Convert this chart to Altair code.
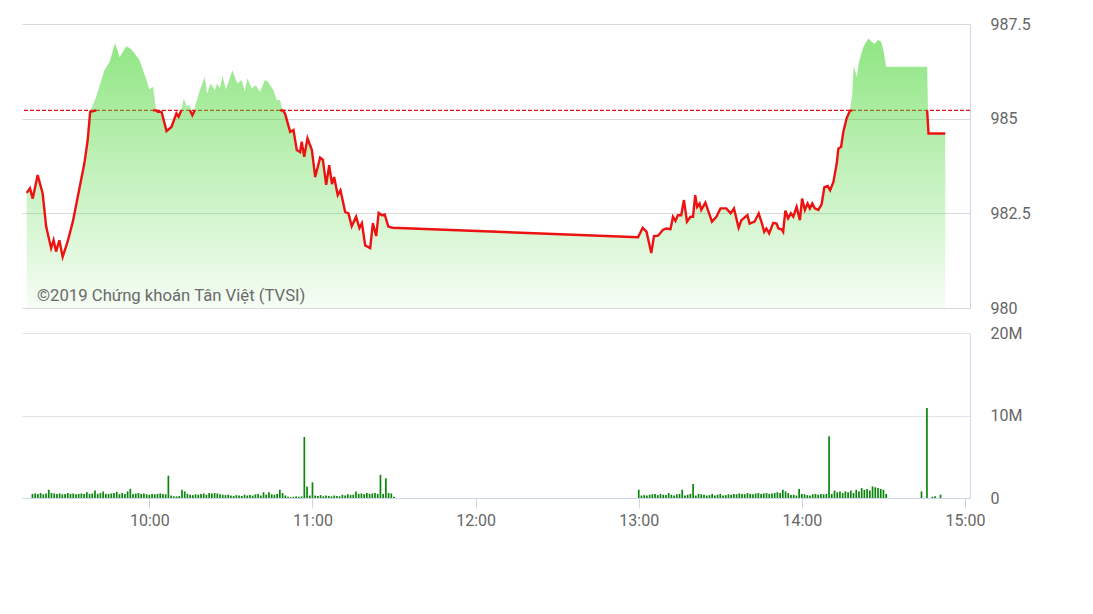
import altair as alt
import pandas as pd

REF = 985.22  # reference (previous close)
WATERMARK = "©2019 Chứng khoán Tân Việt (TVSI)"
X_TICKS = [600, 660, 720, 780, 840, 900]
X_TICK_LABELS = ["10:00", "11:00", "12:00", "13:00", "14:00", "15:00"]
Y_TICKS = [980, 982.5, 985, 987.5]
VOL_TICKS = [0, 10, 20]

# minutes since midnight
price_min = [556.7, 557.9, 558.9, 560.7, 562.5, 563.8, 565.6, 566.5, 567.4, 568.6,
             569.8, 571.6, 573.5, 575.3, 577.7, 578.9, 579.8, 582.0, 585.0, 586.9,
             588.9, 590.5, 593.0, 594.8, 596.0, 597.8, 600.3, 601.3, 602.7, 603.8,
             604.4, 605.8, 607.6, 609.4, 611.2, 612.0, 613.0, 613.9, 614.9, 616.1,
             617.0, 617.9, 619.7, 621.5, 622.4, 623.6, 625.2, 626.0, 627.0, 628.0,
             629.2, 631.6, 633.3, 634.9, 636.1, 637.0, 638.6, 640.1, 641.6, 643.4,
             644.6, 646.5, 647.7, 648.9, 649.9, 650.7, 652.6, 653.8, 655.0, 656.2,
             656.8, 657.7, 658.9, 660.5, 661.7, 663.5, 664.5, 665.7, 666.8, 667.8,
             668.6, 669.9, 670.9, 672.6, 673.8, 675.0, 676.6, 677.8, 678.7, 679.9,
             681.7, 682.7, 683.9, 684.8, 686.0, 687.0, 688.3, 689.8,
             779.2, 780.9, 782.3, 784.0, 785.0, 786.5, 788.2, 789.4, 791.0, 791.9,
             792.8, 793.7, 794.9, 795.9, 797.0, 798.3, 799.2, 800.0, 800.7, 801.6,
             802.2, 803.7, 804.6, 806.1, 807.7, 809.2, 811.3, 812.9, 814.1, 815.8,
             816.8, 819.0, 819.8, 821.6, 823.1, 824.3, 825.1, 825.9, 826.9, 828.4,
             829.6, 830.3, 831.4, 832.0, 832.8, 833.8, 834.8, 835.7, 836.9, 838.1,
             838.9, 839.9, 840.9, 841.7, 842.6, 843.5, 844.8, 846.0, 847.0, 848.2,
             849.1, 850.3, 851.5, 852.1, 853.1, 853.9, 855.1, 856.3, 857.1, 857.7,
             858.8, 859.6, 861.2, 863.0, 864.2, 865.3, 866.4, 867.6, 868.5, 869.5,
             884.4, 884.9, 891.0]
price_val = [983.04, 983.16, 982.89, 983.51, 983.03, 982.15, 981.58, 981.79, 981.49, 981.79,
             981.35, 981.75, 982.28, 982.94, 983.82, 984.43, 985.18, 985.58, 986.28, 986.50,
             987.00, 986.62, 986.91, 986.83, 986.72, 986.54, 986.02, 985.78, 985.84, 985.22,
             985.18, 985.18, 984.67, 984.78, 985.14, 985.05, 985.25, 985.53, 985.33, 985.36,
             985.09, 985.31, 985.75, 986.10, 985.66, 985.93, 985.75, 985.93, 985.80, 986.12,
             985.77, 986.28, 985.93, 986.02, 985.71, 986.06, 985.80, 985.88, 985.71, 986.02,
             985.97, 985.75, 985.49, 985.49, 985.22, 985.14, 984.65, 984.70, 984.17, 984.12,
             984.39, 983.99, 984.48, 984.17, 983.46, 983.97, 983.91, 983.25, 983.77, 983.27,
             983.46, 982.98, 983.11, 982.54, 982.50, 982.16, 982.41, 982.11, 982.24, 981.65,
             981.58, 982.24, 981.90, 982.51, 982.45, 982.47, 982.15, 982.12,
             981.87, 982.12, 982.01, 981.45, 981.90, 981.91, 982.06, 982.10, 982.08, 982.41,
             982.30, 982.45, 982.45, 982.85, 982.28, 982.41, 982.41, 982.98, 982.67, 982.76,
             982.59, 982.78, 982.59, 982.28, 982.41, 982.63, 982.63, 982.50, 982.63, 982.12,
             982.32, 982.45, 982.23, 982.28, 982.50, 982.23, 982.01, 982.10, 981.97, 982.25,
             982.23, 982.10, 982.08, 982.01, 982.57, 982.37, 982.50, 982.41, 982.67, 982.32,
             982.89, 982.59, 982.76, 982.63, 982.76, 982.63, 982.59, 982.74, 983.19, 983.22,
             983.11, 983.33, 983.82, 984.21, 984.26, 984.65, 985.01, 985.21, 985.62, 986.40,
             986.10, 986.50, 986.89, 987.12, 987.03, 986.97, 987.08, 987.04, 986.81, 986.37,
             986.37, 984.61, 984.61]

# volume in millions, one bar per minute
vol_am_start = 9 * 60 + 17
vol_am = [0.5, 0.55, 0.5, 0.6, 0.45, 0.55, 1.0, 0.6, 0.55, 0.5, 0.55, 0.45, 0.5, 0.6, 0.5,
          0.55, 0.45, 0.5, 0.55, 0.5, 0.7, 0.5, 0.55, 0.9, 0.5, 0.6, 0.8, 0.5, 0.5, 0.55,
          0.6, 0.75, 0.45, 0.6, 0.5, 0.8, 1.1, 0.5, 0.55, 0.6, 0.5, 0.55, 0.45,
          0.4, 0.5, 0.45, 0.5, 0.55, 0.5, 0.45, 2.7, 0.3, 0.2, 0.2, 0.25, 1.0, 0.8, 0.5,
          0.4, 0.35, 0.45, 0.4, 0.5, 0.55, 0.4, 0.6, 0.55, 0.6, 0.55, 0.45, 0.4, 0.35, 0.4,
          0.3, 0.25, 0.35, 0.3, 0.25, 0.4, 0.3, 0.35, 0.3, 0.45, 0.5, 0.3, 0.7, 0.4, 0.7,
          0.45, 0.4, 0.5, 1.0, 0.6, 0.3, 0.15, 0.1, 0.15, 0.2, 0.15, 0.2, 7.4, 1.4, 0.3,
          1.9, 0.3, 0.25, 0.35, 0.2, 0.3, 0.25, 0.2, 0.3, 0.25, 0.2, 0.4, 0.3, 0.45, 0.35,
          0.4, 0.8, 0.5, 0.55, 0.45, 0.6, 0.5, 0.55, 0.6, 0.5, 2.8, 0.5, 2.4, 0.6, 0.55, 0.15]
vol_pm_start = 13 * 60
vol_pm = [1.0, 0.3, 0.35, 0.3, 0.4, 0.45, 0.5, 0.35, 0.5, 0.4, 0.35, 0.6, 0.4, 0.3, 0.45,
          0.5, 1.0, 0.3, 0.4, 0.5, 1.7, 0.3, 0.5, 0.45, 0.4, 0.3, 0.35, 0.5, 0.3, 0.4,
          0.5, 0.3, 0.35, 0.45, 0.4, 0.5, 0.45, 0.55, 0.5, 0.45, 0.6, 0.5, 0.45, 0.55, 0.6,
          0.5, 0.55, 0.6, 0.5, 0.55, 0.6, 0.7, 0.6, 1.0, 0.8, 0.6, 0.35, 0.4, 0.3, 1.1,
          0.5, 0.45, 0.35, 0.3, 0.45, 0.5, 0.4, 0.5, 0.45, 0.5, 7.5, 0.5, 0.9, 0.7, 0.8,
          0.6, 0.8, 0.7, 0.9, 0.6, 1.0, 0.8, 1.2, 1.0, 1.1, 0.9, 1.4, 1.3, 1.2, 1.1, 1.0, 0.5]
vol_late_min = [884, 886, 888, 889, 891]
vol_late = [0.8, 10.9, 0.15, 0.2, 0.4]

# ---------- tables ----------
df = pd.DataFrame({"m": price_min, "price": price_val})
below = df["price"] <= REF + 0.01
inc = below | below.shift(1, fill_value=False) | below.shift(-1, fill_value=False)
line_df = df[inc].copy()
line_df["y"] = line_df["price"].clip(upper=REF)
line_df["seg"] = (line_df.index.to_series().diff() != 1).cumsum()

vol_df = pd.DataFrame({
    "m": [vol_am_start + i for i in range(len(vol_am))]
         + [vol_pm_start + i for i in range(len(vol_pm))] + vol_late_min,
    "v": vol_am + vol_pm + vol_late,
})
ref_df = pd.DataFrame({"ref": [REF]})

FONT = "Roboto"
LABEL = "#666666"
W = 948
label_expr = " : ".join(
    f"datum.value == {v} ? '{l}'" for v, l in zip(X_TICKS, X_TICK_LABELS)) + " : ''"

xscale = alt.Scale(domain=[555, 900], nice=False, zero=False)
yscale = alt.Scale(domain=[980, 987.5], nice=False, zero=False)

y_axis = alt.Axis(orient="right", values=Y_TICKS, format=".1~f", title=None,
                  ticks=False, labelPadding=20, grid=True, gridColor="#d9d9d9",
                  domainColor="#ccd6eb", labelFont=FONT, labelFontSize=16,
                  labelColor=LABEL, labelFlush=False, labelOverlap=False)

area = alt.Chart(df).mark_area(
    color=alt.Gradient(
        gradient="linear",
        stops=[alt.GradientStop(color="rgba(80,215,60,0.64)", offset=0),
               alt.GradientStop(color="rgba(80,215,60,0.05)", offset=1)],
        x1=0, x2=0, y1=0, y2=1),
).encode(
    x=alt.X("m:Q", scale=xscale, axis=None),
    y=alt.Y("price:Q", scale=yscale, axis=y_axis),
    y2=alt.datum(980),
)

ref_rule = alt.Chart(ref_df).mark_rule(color="#dd1111", strokeWidth=1.3,
                                       strokeDash=[4, 2]).encode(
    y=alt.Y("ref:Q", scale=yscale),
)

red_line = alt.Chart(line_df).mark_line(color="#ee1111", strokeWidth=2.4).encode(
    x=alt.X("m:Q", scale=xscale),
    y=alt.Y("y:Q", scale=yscale),
    detail="seg:N",
)

wm = alt.Chart(pd.DataFrame({"t": [WATERMARK]})).mark_text(
    align="left", baseline="middle", font=FONT, fontSize=16.7, color="#6a6a6a"
).encode(x=alt.value(15), y=alt.value(272), text="t:N")

top = alt.layer(ref_rule, area, red_line, wm).properties(width=W, height=284)

bars = alt.Chart(vol_df).mark_bar(color="#0a870a", size=1.7).encode(
    x=alt.X("m:Q", scale=xscale,
            axis=alt.Axis(values=X_TICKS, labelExpr=label_expr, title=None, grid=False,
                          domainColor="#ccd6eb", tickColor="#ccd6eb", tickSize=10,
                          labelPadding=4, labelFont=FONT, labelFontSize=16,
                          labelColor=LABEL, labelFlush=False, labelOverlap=False)),
    y=alt.Y("v:Q", scale=alt.Scale(domain=[0, 20], nice=False),
            axis=alt.Axis(orient="right", values=VOL_TICKS,
                          labelExpr="datum.value == 0 ? '0' : datum.value + 'M'",
                          title=None, ticks=False, labelPadding=20, grid=True,
                          gridColor="#e3e3e3", domainColor="#ccd6eb", labelFont=FONT,
                          labelFontSize=16, labelColor=LABEL, labelFlush=False,
                          labelOverlap=False)),
).properties(width=W, height=165)

chart = alt.vconcat(top, bars, spacing=25, bounds="flush").properties(
    padding={"left": 13, "top": 8, "right": 5, "bottom": 5}
).configure_view(stroke=None)

chart.save("out.html", embed_options={"renderer": "svg", "actions": False})
